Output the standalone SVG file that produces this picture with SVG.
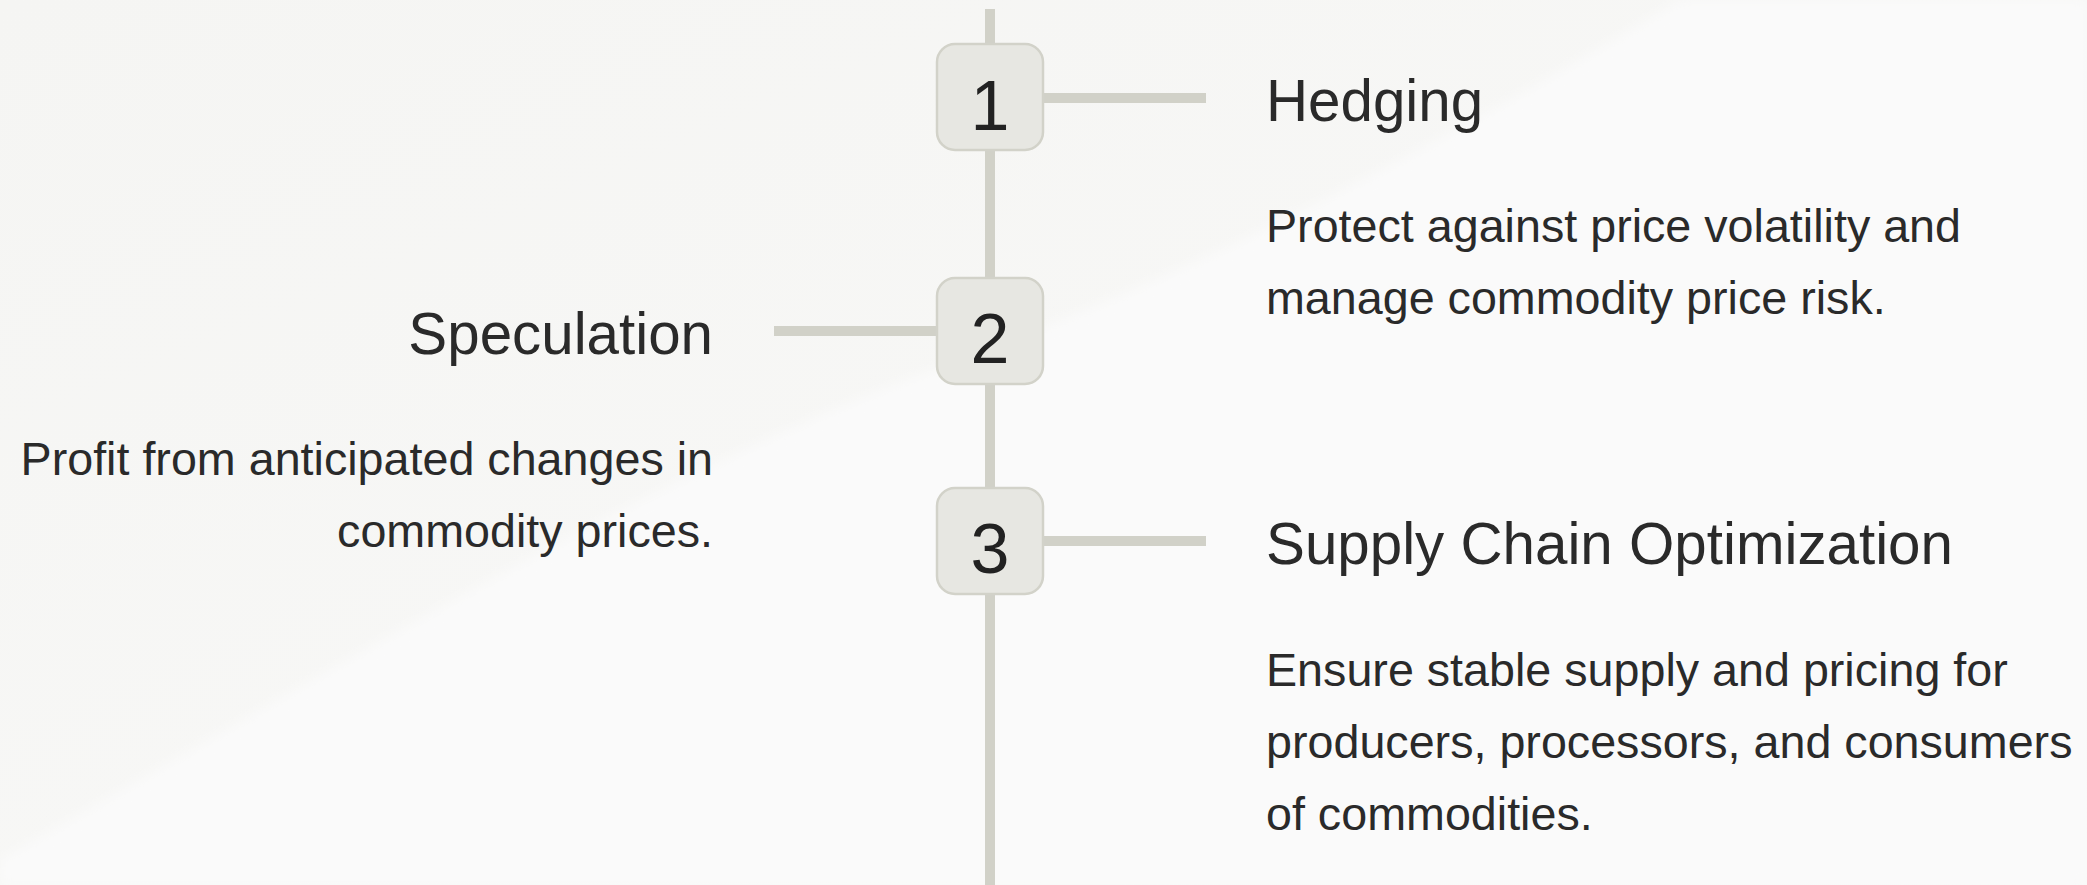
<svg xmlns="http://www.w3.org/2000/svg" width="2087" height="885" viewBox="0 0 2087 885">
  <defs>
    <linearGradient id="bg" x1="0" y1="0" x2="1" y2="1">
      <stop offset="0" stop-color="#f5f5f3"/>
      <stop offset="1" stop-color="#f9f9f8"/>
    </linearGradient>
    <filter id="soft" x="-10%" y="-10%" width="120%" height="120%">
      <feGaussianBlur stdDeviation="6"/>
    </filter>
    <style>
      .track { stroke: #d1d1c8; stroke-width: 10; fill: none; }
      .badge { fill: #e7e7e2; stroke: #d2d2c9; stroke-width: 2.5; }
      .num { font-family: "Liberation Sans", Arial, sans-serif; font-size: 70px; fill: #222222; text-anchor: middle; }
      .head { font-family: "Liberation Sans", Arial, sans-serif; font-size: 58.3px; fill: #2a2a2a; }
      .desc { font-family: "Liberation Sans", Arial, sans-serif; font-size: 46.67px; fill: #2a2a2a; }
      .end { text-anchor: end; }
    </style>
  </defs>

  <!-- backdrop with a soft lighter sweep -->
  <rect width="2087" height="885" fill="url(#bg)"/>
  <path d="M0 860 C 300 690, 650 470, 960 360 C 1280 240, 1530 90, 1680 0 L 2087 0 L 2087 885 L 0 885 Z" fill="#fafafa" filter="url(#soft)"/>

  <!-- connectors -->
  <g id="connectors">
    <line class="track" x1="990" y1="9" x2="990" y2="885"/>
    <line class="track" x1="1044" y1="98" x2="1206" y2="98"/>
    <line class="track" x1="774" y1="331" x2="937" y2="331"/>
    <line class="track" x1="1044" y1="541" x2="1206" y2="541"/>
  </g>

  <!-- step 1 -->
  <g id="step1">
    <rect class="badge" x="937" y="44" width="106" height="106" rx="18"/>
    <text class="num" x="990" y="130">1</text>
    <text class="head" x="1266" y="121">Hedging</text>
    <text class="desc" x="1266" y="242">Protect against price volatility and</text>
    <text class="desc" x="1266" y="314">manage commodity price risk.</text>
  </g>

  <!-- step 2 -->
  <g id="step2">
    <rect class="badge" x="937" y="278" width="106" height="106" rx="18"/>
    <text class="num" x="990" y="363">2</text>
    <text class="head end" x="713" y="354">Speculation</text>
    <text class="desc end" x="713" y="475">Profit from anticipated changes in</text>
    <text class="desc end" x="713" y="547">commodity prices.</text>
  </g>

  <!-- step 3 -->
  <g id="step3">
    <rect class="badge" x="937" y="488" width="106" height="106" rx="18"/>
    <text class="num" x="990" y="573">3</text>
    <text class="head" x="1266" y="564">Supply Chain Optimization</text>
    <text class="desc" x="1266" y="686">Ensure stable supply and pricing for</text>
    <text class="desc" x="1266" y="758">producers, processors, and consumers</text>
    <text class="desc" x="1266" y="830">of commodities.</text>
  </g>
</svg>
